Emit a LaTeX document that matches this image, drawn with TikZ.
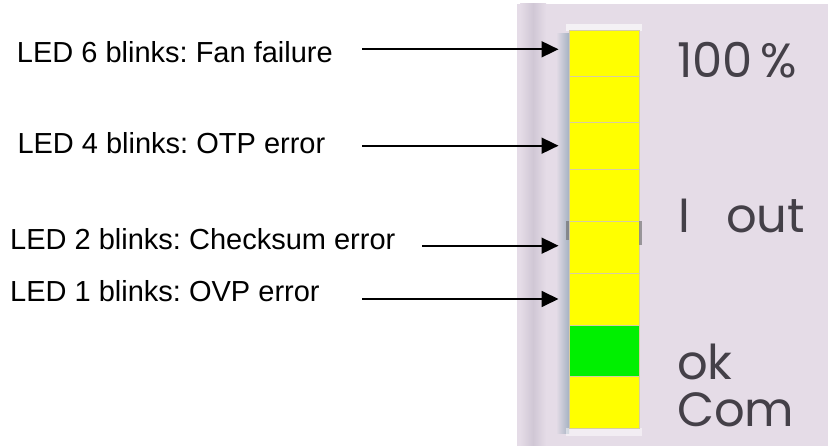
\documentclass[tikz,border=0pt]{standalone}
\usepackage{fontspec}
\setmainfont{Liberation Sans}
\newfontfamily\panelfont{Poppins}
\usetikzlibrary{arrows.meta}
\frenchspacing
\definecolor{lav}{RGB}{229,220,231}
\definecolor{lavdark}{RGB}{208,199,213}
\definecolor{ledyellow}{RGB}{255,255,0}
\definecolor{ledgreen}{RGB}{0,240,0}
\definecolor{seam}{RGB}{215,205,160}
\definecolor{shadowblue}{RGB}{165,178,194}
\definecolor{paneltext}{RGB}{68,64,72}
\tikzset{
  lbl/.style={anchor=base west, inner sep=0pt, font=\fontsize{29}{34}\selectfont},
  paneltxt/.style={anchor=base west, inner sep=0pt, text=paneltext, font=\panelfont\fontsize{48}{52}\selectfont},
  ledseg/.style={draw=seam, line width=0.5pt, fill=ledyellow, minimum width=70pt, inner sep=0pt, outer sep=0pt},
  ledon/.style={ledseg, fill=ledgreen},
  arr/.style={line width=1.8pt, -{Triangle[length=17pt,width=16pt]}}
}
\begin{document}
\begin{tikzpicture}[x=1pt,y=-1pt]
\useasboundingbox (0,0) rectangle (828,446);
% photo background
\fill[lav] (517,4) rectangle (828,446);
\shade[left color=lav, right color=lav, middle color=lavdark] (520,4) rectangle (546,446);
\shade[left color=lav, right color=shadowblue] (556,34) rectangle (569,434);
\fill[white, opacity=0.6] (566,24) rectangle (642,31);
\fill[white, opacity=0.5] (566,428) rectangle (642,436);
% LED column
\node[ledseg, minimum height=46pt]   (led1) at (604,53.7)  {};
\node[ledseg, minimum height=45.6pt] (led2) at (604,99.5)  {};
\node[ledseg, minimum height=47pt]   (led3) at (604,145.8) {};
\node[ledseg, minimum height=52pt]   (led4) at (604,195.3) {};
\node[ledseg, minimum height=52pt]   (led5) at (604,247.3) {};
\node[ledseg, minimum height=52.4pt] (led6) at (604,299.5) {};
\node[ledon,  minimum height=51pt]   (led7) at (604,351.2) {};
\node[ledseg, minimum height=51.3pt] (led8) at (604,402.35) {};
\fill[black!60, opacity=0.6] (566,221) rectangle (569,240);
\fill[black!60, opacity=0.6] (639,221) rectangle (642,245);
% panel labels
\node[paneltxt] (p100) at (677,78) {100\,\%};
\node[paneltxt] (pout) at (678,233) {I\hspace{36pt}out};
\node[paneltxt] (pok)  at (677,380) {ok};
\node[paneltxt] (pcom) at (677,426.7) {Com};
% legend texts
\node[lbl] (l6) at (16.7,62.7) {LED 6 blinks: Fan failure};
\node[lbl] (l4) at (17.3,153.3) {LED 4 blinks: OTP error};
\node[lbl] (l2) at (10,250) {LED 2 blinks: Checksum error};
\node[lbl] (l1) at (10,301.7) {LED 1 blinks: OVP error};
% arrow ends
\coordinate (s6) at (362,49.3);  \coordinate (t6) at (558.5,49.3);
\coordinate (s4) at (362,145.7); \coordinate (t4) at (558.5,145.7);
\coordinate (s2) at (422,245.7); \coordinate (t2) at (558.5,245.7);
\coordinate (s1) at (362,299);   \coordinate (t1) at (558.5,299);
\draw[arr] (s6) -- (t6);
\draw[arr] (s4) -- (t4);
\draw[arr] (s2) -- (t2);
\draw[arr] (s1) -- (t1);
\end{tikzpicture}
\end{document}
